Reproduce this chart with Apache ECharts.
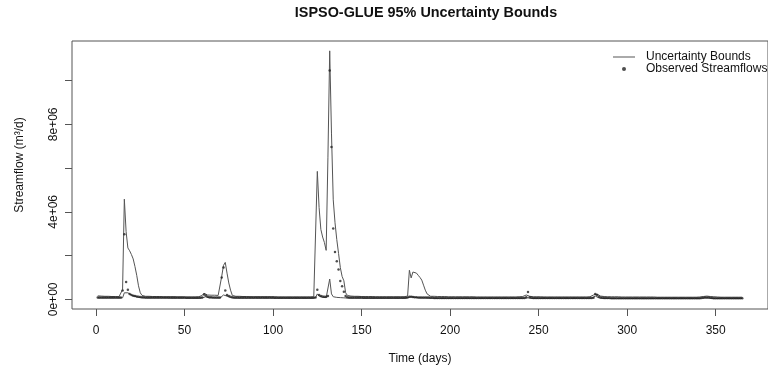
<!DOCTYPE html>
<html>
<head>
<meta charset="utf-8">
<script src="https://cdn.jsdelivr.net/npm/echarts@6/dist/echarts.min.js"></script>
<style>html,body{margin:0;padding:0;background:#fff}#c{width:768px;height:373px}</style>
</head>
<body>
<div id="c"></div>
<script>
// Values in units of 1e6 m^3/d, one per day (day 1..365)
const upperBound = [
0.16,0.15,0.15,0.15,0.14,0.14,0.14,0.13,0.13,0.13,
0.13,0.13,0.12,0.13,0.45,4.58,3.10,2.35,2.22,2.05,
1.85,1.50,1.10,0.62,0.30,0.18,0.15,0.14,0.14,0.14,
0.14,0.13,0.13,0.13,0.13,0.13,0.12,0.12,0.12,0.12,
0.12,0.12,0.12,0.12,0.11,0.11,0.11,0.11,0.11,0.11,
0.11,0.11,0.11,0.11,0.11,0.11,0.11,0.12,0.12,0.18,
0.28,0.26,0.20,0.19,0.19,0.19,0.19,0.18,0.18,0.20,
1.05,1.55,1.69,1.20,0.75,0.42,0.18,0.15,0.14,0.14,
0.14,0.13,0.13,0.13,0.13,0.13,0.12,0.12,0.12,0.12,
0.12,0.12,0.12,0.12,0.12,0.12,0.12,0.12,0.12,0.12,
0.12,0.11,0.11,0.11,0.11,0.11,0.11,0.11,0.11,0.11,
0.11,0.11,0.11,0.11,0.11,0.11,0.11,0.11,0.11,0.11,
0.11,0.11,0.12,0.20,5.85,4.20,3.20,2.85,2.60,2.24,
6.50,11.36,7.60,4.55,3.50,2.73,2.10,1.45,1.05,0.85,
0.30,0.18,0.16,0.15,0.15,0.14,0.14,0.14,0.14,0.13,
0.13,0.13,0.13,0.13,0.13,0.13,0.12,0.12,0.12,0.12,
0.12,0.12,0.12,0.12,0.12,0.12,0.12,0.12,0.12,0.12,
0.12,0.12,0.12,0.12,0.12,0.15,1.33,0.98,1.25,1.33,
1.20,1.10,1.00,0.88,0.65,0.42,0.25,0.16,0.14,0.14,
0.14,0.13,0.13,0.13,0.13,0.13,0.13,0.12,0.12,0.12,
0.12,0.12,0.12,0.12,0.12,0.12,0.12,0.12,0.12,0.12,
0.12,0.12,0.12,0.12,0.11,0.11,0.11,0.11,0.11,0.11,
0.11,0.11,0.11,0.11,0.11,0.11,0.11,0.11,0.11,0.11,
0.11,0.11,0.11,0.11,0.11,0.11,0.11,0.11,0.12,0.12,
0.13,0.15,0.20,0.18,0.14,0.13,0.12,0.12,0.12,0.12,
0.12,0.12,0.11,0.11,0.11,0.11,0.11,0.11,0.11,0.11,
0.11,0.11,0.11,0.11,0.11,0.11,0.11,0.11,0.11,0.11,
0.11,0.11,0.11,0.11,0.11,0.11,0.11,0.12,0.12,0.14,
0.20,0.29,0.24,0.18,0.15,0.14,0.13,0.13,0.12,0.12,
0.12,0.12,0.12,0.12,0.12,0.11,0.11,0.11,0.11,0.11,
0.11,0.11,0.11,0.11,0.11,0.11,0.11,0.11,0.11,0.11,
0.11,0.11,0.11,0.11,0.11,0.11,0.10,0.10,0.10,0.10,
0.10,0.10,0.10,0.10,0.10,0.10,0.10,0.10,0.10,0.10,
0.10,0.10,0.10,0.10,0.10,0.10,0.10,0.10,0.10,0.10,
0.11,0.12,0.13,0.14,0.15,0.14,0.13,0.12,0.12,0.11,
0.11,0.11,0.10,0.10,0.10,0.10,0.10,0.10,0.10,0.10,
0.10,0.10,0.10,0.10,0.10
];
const lowerBound = [
0.06,0.06,0.06,0.06,0.06,0.06,0.06,0.06,0.06,0.06,
0.06,0.06,0.06,0.06,0.07,0.30,0.35,0.30,0.25,0.20,
0.17,0.14,0.11,0.09,0.08,0.07,0.07,0.06,0.06,0.06,
0.06,0.06,0.06,0.06,0.06,0.06,0.06,0.06,0.06,0.06,
0.05,0.05,0.05,0.05,0.05,0.05,0.05,0.05,0.05,0.05,
0.05,0.05,0.05,0.05,0.05,0.05,0.05,0.05,0.05,0.07,
0.15,0.12,0.08,0.07,0.07,0.07,0.07,0.06,0.06,0.06,
0.08,0.20,0.22,0.15,0.10,0.08,0.06,0.06,0.05,0.05,
0.05,0.05,0.05,0.05,0.05,0.05,0.05,0.05,0.05,0.05,
0.05,0.05,0.05,0.05,0.05,0.05,0.05,0.05,0.05,0.05,
0.05,0.05,0.05,0.05,0.05,0.05,0.05,0.05,0.05,0.05,
0.05,0.05,0.05,0.05,0.05,0.05,0.05,0.05,0.05,0.05,
0.05,0.05,0.05,0.08,0.25,0.15,0.10,0.09,0.08,0.08,
0.15,0.93,0.25,0.12,0.10,0.09,0.08,0.08,0.07,0.07,
0.06,0.06,0.05,0.05,0.05,0.05,0.05,0.05,0.05,0.05,
0.05,0.05,0.05,0.05,0.05,0.05,0.05,0.05,0.05,0.05,
0.05,0.05,0.05,0.05,0.05,0.05,0.05,0.05,0.05,0.05,
0.05,0.05,0.05,0.05,0.05,0.08,0.15,0.12,0.10,0.09,
0.08,0.07,0.07,0.06,0.06,0.06,0.05,0.05,0.05,0.05,
0.04,0.04,0.04,0.04,0.04,0.04,0.04,0.04,0.04,0.04,
0.04,0.04,0.04,0.04,0.04,0.04,0.04,0.04,0.04,0.04,
0.04,0.04,0.04,0.04,0.04,0.04,0.04,0.04,0.04,0.04,
0.04,0.04,0.04,0.04,0.04,0.04,0.04,0.04,0.04,0.04,
0.04,0.04,0.04,0.04,0.04,0.04,0.04,0.04,0.04,0.04,
0.04,0.05,0.10,0.07,0.05,0.04,0.04,0.04,0.04,0.04,
0.04,0.04,0.04,0.04,0.04,0.04,0.04,0.04,0.04,0.04,
0.04,0.04,0.04,0.04,0.04,0.04,0.04,0.04,0.04,0.04,
0.04,0.04,0.04,0.04,0.04,0.04,0.04,0.04,0.04,0.05,
0.08,0.15,0.12,0.07,0.05,0.04,0.04,0.04,0.04,0.04,
0.04,0.04,0.04,0.04,0.04,0.04,0.04,0.04,0.04,0.04,
0.04,0.04,0.04,0.04,0.04,0.04,0.04,0.04,0.04,0.04,
0.04,0.04,0.04,0.04,0.04,0.04,0.04,0.04,0.04,0.04,
0.04,0.04,0.04,0.04,0.04,0.04,0.04,0.04,0.04,0.04,
0.04,0.04,0.04,0.04,0.04,0.04,0.04,0.04,0.04,0.04,
0.04,0.05,0.06,0.07,0.07,0.06,0.05,0.04,0.04,0.04,
0.04,0.04,0.04,0.04,0.04,0.04,0.04,0.04,0.04,0.04,
0.04,0.04,0.04,0.04,0.04
];
const observed = [
0.09,0.09,0.09,0.08,0.08,0.08,0.08,0.08,0.08,0.08,
0.08,0.08,0.08,0.09,0.40,2.98,0.79,0.44,0.25,0.20,
0.17,0.15,0.13,0.12,0.11,0.10,0.10,0.09,0.09,0.09,
0.09,0.08,0.08,0.08,0.08,0.08,0.08,0.08,0.08,0.08,
0.08,0.08,0.08,0.08,0.08,0.08,0.08,0.08,0.08,0.08,
0.07,0.07,0.07,0.07,0.07,0.07,0.07,0.07,0.07,0.08,
0.22,0.18,0.12,0.10,0.10,0.09,0.09,0.09,0.09,0.09,
1.00,1.46,0.40,0.20,0.15,0.12,0.10,0.09,0.09,0.08,
0.08,0.08,0.08,0.08,0.08,0.08,0.08,0.08,0.08,0.08,
0.08,0.08,0.08,0.08,0.08,0.08,0.08,0.08,0.08,0.08,
0.07,0.07,0.07,0.07,0.07,0.07,0.07,0.07,0.07,0.07,
0.07,0.07,0.07,0.07,0.07,0.07,0.07,0.07,0.07,0.07,
0.07,0.07,0.07,0.08,0.44,0.20,0.15,0.13,0.12,0.12,
0.15,10.46,6.96,3.24,2.16,1.74,1.36,0.84,0.60,0.35,
0.15,0.10,0.09,0.09,0.08,0.08,0.08,0.08,0.08,0.08,
0.07,0.07,0.07,0.07,0.07,0.07,0.07,0.07,0.07,0.07,
0.07,0.07,0.07,0.07,0.07,0.07,0.07,0.07,0.07,0.07,
0.07,0.07,0.07,0.07,0.07,0.08,0.12,0.12,0.11,0.10,
0.10,0.09,0.09,0.09,0.08,0.08,0.08,0.08,0.07,0.07,
0.06,0.06,0.06,0.06,0.06,0.06,0.06,0.06,0.06,0.06,
0.06,0.06,0.06,0.06,0.06,0.06,0.06,0.06,0.06,0.06,
0.06,0.06,0.06,0.06,0.06,0.06,0.06,0.06,0.06,0.06,
0.06,0.06,0.06,0.06,0.06,0.06,0.06,0.06,0.06,0.06,
0.06,0.06,0.06,0.06,0.06,0.06,0.06,0.06,0.06,0.06,
0.06,0.06,0.10,0.34,0.10,0.07,0.06,0.06,0.06,0.06,
0.06,0.06,0.06,0.06,0.06,0.06,0.06,0.06,0.06,0.06,
0.06,0.06,0.06,0.06,0.06,0.06,0.06,0.06,0.06,0.06,
0.06,0.06,0.06,0.06,0.06,0.06,0.06,0.06,0.06,0.06,
0.07,0.25,0.20,0.12,0.08,0.07,0.06,0.06,0.06,0.06,
0.05,0.05,0.05,0.05,0.05,0.05,0.05,0.05,0.05,0.05,
0.05,0.05,0.05,0.05,0.05,0.05,0.05,0.05,0.05,0.05,
0.05,0.05,0.05,0.05,0.05,0.05,0.05,0.05,0.05,0.05,
0.05,0.05,0.05,0.05,0.05,0.05,0.05,0.05,0.05,0.05,
0.05,0.05,0.05,0.05,0.05,0.05,0.05,0.05,0.05,0.05,
0.05,0.06,0.07,0.08,0.09,0.08,0.07,0.06,0.05,0.05,
0.05,0.05,0.05,0.05,0.05,0.05,0.05,0.05,0.05,0.05,
0.05,0.05,0.05,0.05,0.05
];
const xTicks = [0, 50, 100, 150, 200, 250, 300, 350];
const yTicks = [0, 2, 4, 6, 8, 10];
const yLabelValues = [0, 4, 8];
const yLabelTexts = ['0e+00', '4e+06', '8e+06'];

const days = upperBound.map((_, i) => i + 1);
const FONT = "'Liberation Sans', Arial, Helvetica, sans-serif";
const TXT = '#111';

const chart = echarts.init(document.getElementById('c'), null, {renderer: 'canvas'});
chart.setOption({
  animation: false,
  backgroundColor: '#fff',
  textStyle: {fontFamily: FONT},
  title: {
    text: 'ISPSO-GLUE 95% Uncertainty Bounds',
    left: 426, top: 6, padding: 0, textAlign: 'center',
    textStyle: {fontSize: 14.4, fontWeight: 'bold', color: TXT, fontFamily: FONT}
  },
  legend: [
    {
      data: [{name: 'Uncertainty Bounds', icon: 'rect'}],
      left: 613, top: 51, padding: 0, itemWidth: 22, itemHeight: 1,
      selectedMode: false,
      textStyle: {fontSize: 12, color: TXT, fontFamily: FONT, padding: [0, 0, 0, 6]}
    },
    {
      data: [{name: 'Observed Streamflows', icon: 'circle'}],
      left: 622, top: 63, padding: 0, itemWidth: 22, itemHeight: 4,
      selectedMode: false,
      textStyle: {fontSize: 12, color: TXT, fontFamily: FONT, padding: [0, 0, 0, 6]}
    }
  ],
  grid: {left: 72, top: 41, width: 707.6, height: 268, show: true, borderColor: '#555', borderWidth: 1, backgroundColor: 'transparent'},
  xAxis: {
    type: 'value', min: -13.56, max: 379.56,
    name: 'Time (days)', nameLocation: 'middle', nameGap: 44,
    nameTextStyle: {fontSize: 12, color: TXT, fontFamily: FONT},
    axisLine: {show: false, onZero: false},
    splitLine: {show: false},
    axisTick: {show: true, customValues: xTicks, length: 7, lineStyle: {color: '#555'}},
    axisLabel: {customValues: xTicks, margin: 16, fontSize: 12, color: TXT, fontFamily: FONT, formatter: v => String(v)}
  },
  yAxis: {
    type: 'value', min: -0.44, max: 11.81,
    name: 'Streamflow (m³/d)', nameLocation: 'middle', nameGap: 46,
    nameTextStyle: {fontSize: 12, color: TXT, fontFamily: FONT, padding: [0, 0, 0, 20]},
    axisLine: {show: false, onZero: false},
    splitLine: {show: false},
    axisTick: {show: true, customValues: yTicks, length: 7, lineStyle: {color: '#555'}},
    axisLabel: {customValues: yLabelValues, rotate: 90, margin: 12, fontSize: 12, color: TXT, fontFamily: FONT,
      formatter: v => yLabelTexts[yLabelValues.indexOf(v)]}
  },
  series: [
    {
      name: 'Uncertainty Bounds', type: 'line', showSymbol: false, symbol: 'none',
      data: days.map((d, i) => [d, upperBound[i]]),
      itemStyle: {color: '#555'}, lineStyle: {color: '#555', width: 1}, z: 2
    },
    {
      name: 'Uncertainty Bounds', type: 'line', showSymbol: false, symbol: 'none',
      data: days.map((d, i) => [d, lowerBound[i]]),
      itemStyle: {color: '#555'}, lineStyle: {color: '#555', width: 1}, z: 2
    },
    {
      name: 'Observed Streamflows', type: 'scatter', symbol: 'circle', symbolSize: 2.5,
      data: days.map((d, i) => [d, observed[i]]),
      itemStyle: {color: '#222'}, z: 3
    }
  ]
});
</script>
</body>
</html>
